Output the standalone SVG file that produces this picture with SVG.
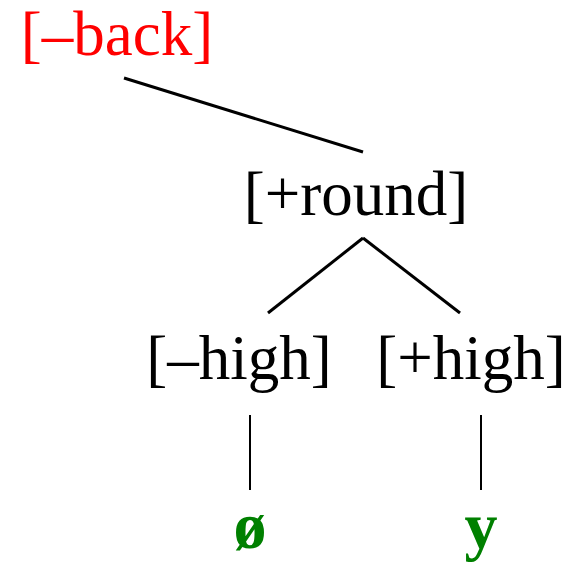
<svg xmlns="http://www.w3.org/2000/svg" width="580" height="564" viewBox="0 0 580 564">
<style>
text{font-family:"Liberation Serif","Times New Roman",serif;font-size:63px;text-anchor:middle}
.red{fill:#ff0000}
.blk{fill:#000}
.grn{fill:#008000;font-weight:bold;font-size:66px}
.edge{stroke:#000;stroke-width:3;fill:none}
.vert{stroke:#000;stroke-width:2;fill:none}
</style>
<rect width="580" height="564" fill="#fff"/>
<g id="connectors">
<line class="edge" x1="124" y1="78" x2="363" y2="152"/>
<line class="edge" x1="363" y1="238" x2="268" y2="313"/>
<line class="edge" x1="363" y1="238" x2="460" y2="313"/>
<line class="vert" x1="250" y1="415" x2="250" y2="490"/>
<line class="vert" x1="481" y1="415" x2="481" y2="490"/>
</g>
<g id="back"><text class="red" x="117" y="55">[–back]</text></g>
<g id="round"><text class="blk" x="356" y="215">[+round]</text></g>
<g id="mhigh"><text class="blk" x="239" y="379">[–high]</text></g>
<g id="phigh"><text class="blk" x="471" y="379">[+high]</text></g>
<g id="oslash"><text class="grn" x="250" y="548">ø</text></g>
<g id="y"><text class="grn" x="481" y="548">y</text></g>
</svg>
